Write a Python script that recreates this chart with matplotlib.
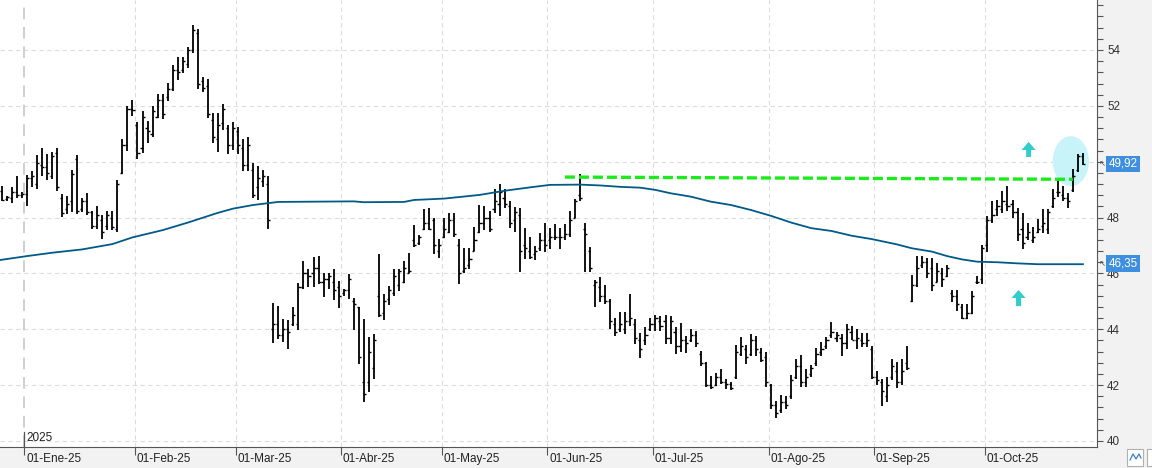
import numpy as np
import matplotlib.pyplot as plt
from matplotlib.patches import Ellipse, FancyArrow, Rectangle
from matplotlib.ticker import MultipleLocator

plt.rcParams['font.family'] = ['Liberation Sans', 'DejaVu Sans']

# daily bars, 23-Dic-24 .. 28-Oct-25 (trading-day index)
highs = [49.12, 48.79, 49.08, 49.5, 48.93, 49.52, 49.67, 50.24, 50.49, 50.26, 50.35, 50.48, 48.86, 48.79,
         49.69, 50.24, 48.71, 48.88, 48.25, 48.43, 48.1, 48.24, 48.24, 49.35, 50.83, 51.98, 52.2, 51.43,
         51.8, 51.46, 51.98, 52.44, 52.44, 52.82, 53.45, 53.76, 53.75, 54.12, 54.89, 54.74, 53.04, 52.95,
         51.75, 51.74, 52.08, 51.33, 51.43, 51.24, 50.81, 50.89, 49.96, 49.83, 49.7, 49.49,
         44.93, 44.83, 44.36, 44.33, 44.79, 45.65, 46.44, 46.15, 46.6, 46.63, 46.01, 46.0, 46.15, 45.73,
         45.46, 45.98, 45.12, 44.81, 44.37, 43.74, 43.83, 46.69, 45.26, 45.56, 46.15, 46.15, 46.45, 46.73,
         47.73, 47.37, 48.3, 48.36, 47.98, 47.25, 47.98, 48.18, 48.15, 47.23, 46.9, 46.9, 47.68, 48.44,
         48.42, 48.23, 49.04, 49.19, 49.01, 48.6, 48.39, 48.36, 47.64, 47.29, 46.99, 47.43, 47.82, 47.64,
         47.76, 47.64, 47.76, 48.25, 48.68, 49.55, 47.8, 46.93, 45.76, 45.86, 45.58, 45.08, 44.39,
         44.61, 44.61, 45.26, 44.37, 43.87, 44.07, 44.39, 44.51, 44.49, 44.51, 44.49, 44.07, 44.23, 43.75,
         44.01, 43.95, 43.24, 42.82, 42.31, 42.44, 42.58, 42.23, 42.13, 43.42, 43.71, 43.42, 43.83, 43.75,
         43.32, 43.18, 42.05, 41.42, 41.63, 41.61, 42.37, 42.92, 43.08, 42.56, 42.73, 43.32, 43.54, 43.71,
         44.27, 43.92, 43.83, 44.19, 44.11, 44.01, 43.87, 43.87, 43.4, 42.52, 42.23, 42.29, 42.94, 42.82,
         42.92, 43.4,
         45.95, 46.63, 46.63, 46.54, 46.54, 46.37, 46.21, 46.31, 45.42, 45.4, 44.9, 44.9, 45.38, 45.92,
         47.01, 48.06, 48.6, 48.63, 48.95, 49.13, 48.63, 48.36, 48.18, 47.8, 47.68, 47.96, 48.3, 48.3,
         49.01, 49.33, 49.13, 48.87, 49.75, 50.26, 50.32]
lows = [48.58, 48.58, 48.51, 48.69, 48.69, 48.4, 49.08, 49.02, 49.5, 49.35, 49.37, 48.96, 48.02, 48.11,
        48.19, 48.11, 48.21, 48.1, 47.6, 47.58, 47.24, 47.55, 47.54, 47.5, 49.56, 50.37, 51.64, 50.1,
        50.31, 50.68, 50.89, 51.57, 51.52, 52.18, 52.54, 52.93, 53.19, 53.36, 53.9, 52.6, 52.48, 51.57,
        50.68, 50.36, 51.12, 50.26, 50.43, 50.27, 49.68, 49.65, 48.71, 48.64, 49.11, 47.6,
        43.52, 43.64, 43.56, 43.28, 44.12, 43.97, 45.46, 45.52, 45.52, 45.63, 45.17, 45.44, 45.06, 44.77,
        45.2, 45.1, 43.98, 42.76, 41.39, 41.77, 42.23, 44.43, 44.35, 44.87, 45.18, 45.38, 45.64, 46.01,
        46.96, 47.01, 47.55, 47.56, 46.71, 46.57, 47.26, 47.46, 47.32, 45.63, 46.0, 46.15, 46.79, 47.46,
        47.55, 47.49, 48.18, 48.06, 48.36, 47.63, 47.49, 46.06, 46.51, 46.51, 46.49, 46.81, 46.77, 46.89,
        47.2, 46.89, 47.19, 47.29, 48.0, 48.6, 46.06, 46.06, 44.79, 44.96, 44.9, 44.01, 43.77,
        43.89, 43.83, 44.13, 43.48, 42.96, 43.42, 43.95, 43.95, 43.95, 43.48, 43.48, 43.12, 43.18, 43.15,
        43.54, 43.36, 42.7, 41.93, 41.87, 41.96, 42.05, 41.87, 41.81, 42.23, 43.06, 42.76, 43.04, 43.06,
        42.82, 41.93, 41.13, 40.82, 41.01, 41.15, 41.51, 42.23, 41.93, 41.93, 42.29, 42.7, 43.06, 43.3,
        43.68, 43.54, 43.04, 43.3, 43.6, 43.3, 43.36, 43.36, 42.23, 42.01, 41.25, 41.39, 42.17, 41.89,
        41.99, 42.53,
        44.96, 45.5, 46.21, 45.82, 45.38, 45.68, 45.5, 45.86, 44.99, 44.67, 44.37, 44.37, 44.55, 45.62,
        45.62, 46.75, 47.82, 48.04, 48.18, 48.24, 47.98, 47.17, 46.89, 47.2, 47.08, 47.46, 47.44, 47.4,
        48.36, 48.75, 48.6, 48.36, 48.92, 49.63, 49.9]
opens = [48.95, 48.65, 48.7, 48.9, 48.8, 48.85, 49.4, 49.2, 49.9, 49.8, 49.5, 50.3, 48.7, 48.3,
         48.6, 50.1, 48.3, 48.6, 48.2, 47.7, 47.9, 47.7, 48.0, 47.6, 49.6, 50.6, 51.9, 51.3,
         50.5, 51.2, 51.0, 51.6, 52.2, 52.3, 52.6, 53.3, 53.3, 53.5, 54.0, 54.6, 52.9, 52.7,
         51.5, 50.8, 51.4, 51.2, 50.6, 51.1, 50.5, 49.9, 49.7, 49.1, 49.3, 49.2,
         44.0, 44.2, 43.8, 44.0, 44.2, 44.2, 45.5, 46.0, 46.0, 46.2, 45.7, 45.8, 45.7, 45.5,
         45.3, 45.4, 45.0, 44.8, 42.1, 42.1, 42.6, 45.2, 44.6, 45.1, 45.3, 45.6, 45.7, 46.0,
         47.2, 47.1, 47.6, 47.8, 47.9, 46.8, 47.3, 47.5, 47.9, 47.0, 46.1, 46.3, 46.8, 47.5,
         47.8, 48.0, 48.3, 48.5, 48.7, 48.4, 47.9, 48.1, 47.0, 46.8, 46.7, 46.9, 47.2, 47.2,
         47.3, 47.3, 47.3, 47.4, 48.0, 48.8, 47.6, 46.8, 45.6, 45.5, 45.2, 45.0, 44.2,
         44.0, 44.0, 44.3, 44.2, 43.6, 43.6, 44.0, 44.2, 44.3, 44.3, 43.7, 43.9, 43.4, 43.6,
         43.6, 43.8, 43.1, 42.8, 42.0, 42.0, 42.3, 42.1, 42.05, 42.3, 43.1, 43.3, 43.1, 43.6,
         43.2, 43.0, 42.0, 41.3, 41.1, 41.4, 41.6, 42.3, 42.7, 42.1, 42.4, 42.8, 43.2, 43.4,
         43.8, 43.7, 43.7, 43.5, 43.9, 43.6, 43.6, 43.5, 43.3, 42.3, 42.1, 41.6, 42.3, 42.5,
         42.1, 42.8,
         45.0, 45.6, 46.3, 46.4, 46.2, 45.7, 46.0, 45.9, 45.3, 45.2, 44.8, 44.4, 44.6, 45.7,
         45.8, 47.0, 47.9, 48.3, 48.3, 48.5, 48.5, 48.2, 47.6, 47.3, 47.2, 47.5, 47.7, 47.6,
         48.4, 48.9, 48.8, 48.7, 49.0, 49.7, 50.2]
closes = [48.62, 48.72, 48.9, 48.8, 48.85, 49.4, 49.5, 49.95, 49.8, 49.6, 50.2, 49.1, 48.15, 48.5,
          49.55, 48.25, 48.6, 48.2, 47.7, 48.1, 47.5, 48.1, 47.65, 49.2, 50.6, 51.9, 51.85, 50.3,
          51.6, 51.1, 51.8, 52.2, 51.7, 52.6, 53.3, 53.2, 53.6, 54.0, 54.7, 52.8, 52.65, 51.7,
          50.9, 51.3, 51.9, 50.6, 51.2, 50.6, 49.9, 50.6, 48.8, 49.4, 49.5, 47.9,
          44.2, 43.8, 44.0, 43.9, 44.5, 45.5, 46.0, 45.9, 46.2, 45.7, 45.8, 45.9, 45.4, 45.2,
          45.4, 45.8, 44.9, 43.0, 41.7, 43.2, 43.6, 44.5, 45.0, 45.4, 45.9, 46.1, 46.2, 46.1,
          47.0, 47.3, 47.8, 47.6, 47.0, 47.0, 47.6, 47.9, 47.4, 46.0, 46.2, 46.5, 47.2, 47.8,
          48.0, 47.6, 48.6, 48.9, 48.5, 47.8, 48.2, 46.8, 46.9, 46.6, 46.8, 47.2, 47.0, 47.3,
          47.3, 47.3, 47.4, 47.9, 48.6, 48.7, 47.4, 46.2, 45.7, 45.2, 45.0, 44.3, 43.9,
          44.2, 44.3, 44.4, 43.7, 43.3, 43.8, 44.2, 44.4, 44.1, 43.7, 44.3, 43.4, 43.6, 43.5,
          43.8, 43.5, 42.8, 42.0, 41.95, 42.3, 42.1, 42.05, 41.9, 43.2, 43.4, 43.0, 43.6, 43.3,
          42.9, 42.1, 41.3, 41.0, 41.4, 41.3, 42.2, 42.7, 42.1, 42.3, 42.6, 43.1, 43.3, 43.6,
          43.9, 43.8, 43.5, 44.0, 43.6, 43.7, 43.5, 43.6, 42.3, 42.2, 41.8, 42.0, 42.7, 42.1,
          42.5, 42.6,
          45.6, 46.2, 46.4, 46.0, 45.6, 46.1, 45.8, 46.2, 45.2, 44.9, 44.4, 44.6, 45.2, 45.7,
          46.9, 47.9, 48.1, 48.4, 48.6, 48.4, 48.2, 47.4, 47.1, 47.5, 47.3, 47.6, 47.8, 48.2,
          48.7, 48.9, 48.7, 48.6, 49.5, 50.2, 49.92]

# long moving average, sampled along the index
ma_idx = [-0.34, 5, 10, 16, 22, 26, 32, 37, 43, 46, 50, 55, 70, 72, 80, 82, 88, 95, 100, 105, 109,
          115, 119, 123, 127, 130, 133, 137, 141, 145, 149, 153, 157, 161, 165, 169, 173, 178, 181,
          185, 188, 191, 194, 198, 202, 206, 215]
ma_val = [46.48, 46.62, 46.74, 46.86, 47.05, 47.29, 47.55, 47.82, 48.17, 48.32, 48.45, 48.56, 48.58,
          48.55, 48.56, 48.63, 48.68, 48.81, 48.96, 49.08, 49.17, 49.18, 49.15, 49.1, 49.07, 48.99,
          48.87, 48.75, 48.57, 48.45, 48.27, 48.06, 47.82, 47.62, 47.52, 47.35, 47.23, 47.04, 46.9,
          46.78, 46.62, 46.5, 46.42, 46.4, 46.36, 46.33, 46.33]

month_first = [5, 27, 47, 68, 88, 109, 130, 153, 174, 196]
month_labels = ['01-Ene-25', '01-Feb-25', '01-Mar-25', '01-Abr-25', '01-May-25',
                '01-Jun-25', '01-Jul-25', '01-Ago-25', '01-Sep-25', '01-Oct-25']

resist_idx = [112, 213]
resist_val = [49.45, 49.37]
last_close = 49.92
last_ma = 46.35

fig = plt.figure(figsize=(11.52, 4.68), dpi=100, facecolor='#f2f2f3')
ax = fig.add_axes([0, 21 / 468, 1097 / 1152, 447 / 468])
ax.set_facecolor('white')
ax.set_xlim(-0.34, 217.8)
ax.set_ylim(39.785, 55.79)

# grid
for v in range(40, 55, 2):
    ax.axhline(v, color='#dcdcdc', lw=0.8, ls=(0, (4, 3)), zorder=0)
lines_x = [m - 0.5 for m in month_first]
for i, lx in enumerate(lines_x):
    if i == 0:
        ax.axvline(lx, color='#cfcfcf', lw=1.4, ls=(0, (6, 4)), zorder=0)
    else:
        ax.axvline(lx, color='#dcdcdc', lw=0.8, ls=(0, (4, 3)), zorder=0)

# highlight ellipse
ax.add_patch(Ellipse((212.6, 50.02), 7.2, 1.79, color='#c8f3f9', zorder=1.5, lw=0))

# OHLC bars
x = np.arange(len(highs))
ax.vlines(x, lows, highs, color='black', lw=1.3, zorder=2)
ax.hlines(opens, x - 0.42, x, color='black', lw=1.0, zorder=2)
ax.hlines(closes, x, x + 0.42, color='black', lw=1.0, zorder=2)

ax.plot(ma_idx, ma_val, color='#005a87', lw=1.3, zorder=2.5)
ax.plot(resist_idx, resist_val, color='#1aeb1a', lw=2.4, ls=(0, (3, 1.2)), zorder=3)

# arrows
for ax_x, y0, y1 in [(204.2, 50.17, 50.71), (202.2, 44.83, 45.41)]:
    ax.add_patch(FancyArrow(ax_x, y0, 0, y1 - y0, width=1.0, head_width=2.8, head_length=0.29,
                            length_includes_head=True, color='#33cccc', lw=0, zorder=3))

# axes styling
for s in ['top', 'left']:
    ax.spines[s].set_visible(False)
ax.spines['right'].set_color('#555555')
ax.spines['bottom'].set_color('#555555')
ax.yaxis.tick_right()
yticks = list(range(40, 55, 2))
ax.set_yticks(yticks)
# the 50 label sits under the last-price tag
ax.set_yticklabels(['' if v == 50 else str(v) for v in yticks])
ax.yaxis.set_minor_locator(MultipleLocator(0.4))
ax.tick_params(axis='y', which='both', length=4.3, width=0.8, color='#555555',
               labelsize=8.4, labelcolor='#333333', pad=3)
ax.set_xticks(lines_x)
ax.set_xticklabels([])
ax.tick_params(axis='x', length=5.8, width=0.8, color='#555555')

xt = ax.get_xaxis_transform()
for lx, lab in zip(lines_x, month_labels):
    ax.text(lx + 0.35, -0.027, lab, transform=xt, ha='left', va='center',
            fontsize=8.5, color='#222222', clip_on=False)
ax.text(lines_x[0] + 0.35, 0.02, '2025', transform=xt, ha='left', va='center',
        fontsize=8.5, color='#222222')
ax.plot([lines_x[0], lines_x[0]], [0, 0.034], transform=xt, color='#555555', lw=0.9,
        clip_on=False)

# price tags
yt = ax.get_yaxis_transform()
for val in [last_close, last_ma]:
    ax.text(1.0105, val, f'{val:.2f}'.replace('.', ','), transform=yt, ha='left', va='center',
            fontsize=8.4, color='white', clip_on=False, zorder=5,
            bbox=dict(boxstyle='square,pad=0.2', fc='#3f8fe0', ec='none'))
    ax.text(1.0015, val, '\u2196', transform=yt, ha='left', va='center', fontsize=6,
            color='#555555', family='DejaVu Sans', clip_on=False)

# corner button
fig.patches.append(Rectangle((1127 / 1152, 2 / 468), 16 / 1152, 17 / 468, transform=fig.transFigure,
                             fc='white', ec='#b0b0b0', lw=0.8))
fig.patches.append(Rectangle((1147 / 1152, 2 / 468), 16 / 1152, 17 / 468, transform=fig.transFigure,
                             fc='white', ec='#b0b0b0', lw=0.8))
fig.lines.append(plt.Line2D(np.array([1130, 1133, 1136, 1139, 1141]) / 1152,
                            np.array([8, 14, 9, 14, 10]) / 468, transform=fig.transFigure,
                            color='#3a7fd0', lw=0.9))

fig.savefig('out.png', dpi=100)
